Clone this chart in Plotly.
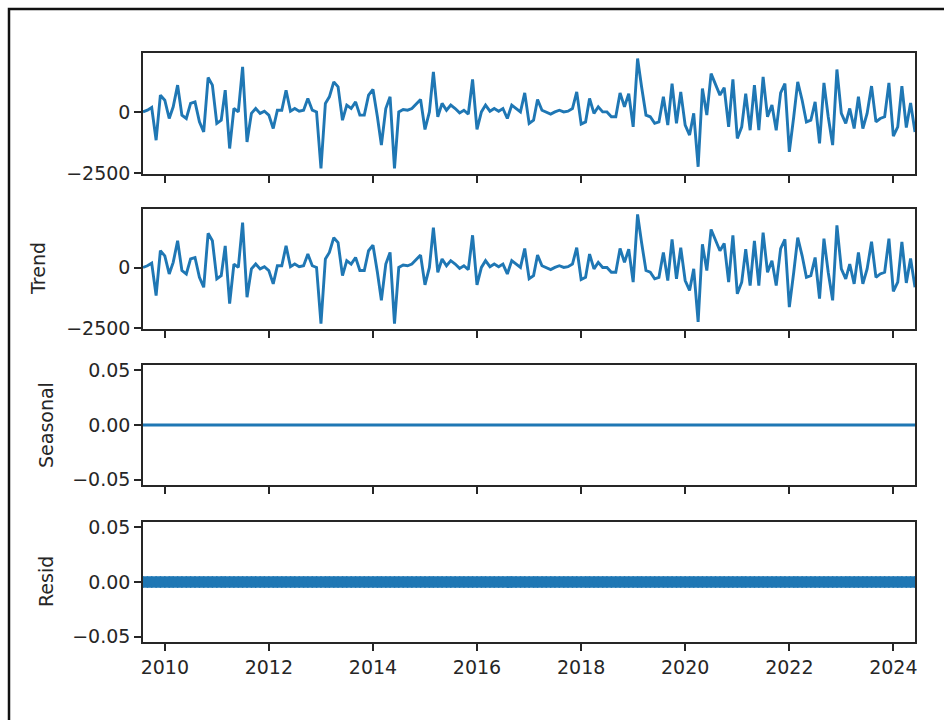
import pandas as pd
import plotly.graph_objects as go

# Monthly series, Aug 2009 - Jun 2024
observed = [
    10, 80, 190, -1150, 700, 490, -260, 220, 1110, -120,
    -260, 360, 420, -400, -810, 1420, 1110, -460, -330, 900,
    -1490, 150, 10, 1860, -1220, -50, 150, -50, 40, -120,
    -670, 80, 80, 900, 40, 150, 40, 80, 560, 80,
    10, -2310, 360, 630, 1240, 1040, -330, 290, 150, 420,
    -120, -120, 700, 930, -190, -1350, 150, 630, -2310, 10,
    110, 80, 150, 360, 520, -710, 10, 1650, -190, 360,
    80, 290, 150, -30, 80, -80, 1340, -710, 10, 290,
    40, 150, 40, 150, -260, 290, 150, 10, 790,
    -460, -330, 520, 80, 10, -80, 10, 80, 10, 40,
    150, 830, -490, -400, 560, -50, 220, 10, 10, -190,
    -190, 790, 220, 760, -600, 2200, 1040, -120, -190, -460,
    -400, 630, -530, 1170, -460, 830, -530, -940, -50, -2240,
    970, -120, 1580, 1110, 700, 1000, -600, 1340, -1080, -600,
    760, -740, 1110, -740, 1450, -190, 290, -740, 790, 1170,
    -1630, -190, 1240, 490, -400, -330, 420, -1280, 1200, -190,
    -1350, 1750, -50, -460, 150, -670, 630, -670, -50, 1070,
    -400, -260, -190, 1200, -980, -600, 1070, -630, 380, -810,
]
# A one-period moving average leaves the series unchanged
trend = list(observed)
seasonal = [0.0] * len(observed)
resid = [0.0] * len(observed)

dates = pd.date_range(start="2009-08-01", periods=len(observed), freq="MS")

year_ticks = ["2010-01-01", "2012-01-01", "2014-01-01", "2016-01-01",
              "2018-01-01", "2020-01-01", "2022-01-01", "2024-01-01"]
year_labels = ["2010", "2012", "2014", "2016", "2018", "2020", "2022", "2024"]

big_ticks = [-2500, 0]
big_labels = ["\u22122500", "0"]
small_ticks = [-0.05, 0.0, 0.05]
small_labels = ["\u22120.05", "0.00", "0.05"]

W, H = 944, 720
BLUE = "#1f77b4"
INK = "#262626"
FONT = "DejaVu Sans"


def px_x(x):
    return x / W


def px_y(y):
    return 1 - y / H


def padded(vals, frac=0.05):
    lo, hi = min(vals), max(vals)
    span = hi - lo
    return [lo - frac * span, hi + frac * span]


# panel boxes in pixels: (top, bottom)
panels = [(53, 174), (209, 329), (365, 485), (522, 642)]
x_dom = [px_x(143), px_x(915)]

fig = go.Figure()

line_style = dict(color=BLUE, width=2.9)
fig.add_trace(go.Scatter(x=dates, y=observed, mode="lines", line=line_style,
                         xaxis="x", yaxis="y", showlegend=False))
fig.add_trace(go.Scatter(x=dates, y=trend, mode="lines", line=line_style,
                         xaxis="x2", yaxis="y2", showlegend=False))
fig.add_trace(go.Scatter(x=dates, y=seasonal, mode="lines", line=line_style,
                         xaxis="x3", yaxis="y3", showlegend=False))
fig.add_trace(go.Scatter(x=dates, y=resid, mode="markers",
                         marker=dict(color=BLUE, size=12, line=dict(width=0)),
                         xaxis="x4", yaxis="y4", showlegend=False))

axis_common = dict(
    showline=True, mirror=True, linecolor=INK, linewidth=1.5,
    ticks="outside", ticklen=7, tickwidth=1.5, tickcolor=INK,
    showgrid=False, zeroline=False, automargin=False,
    tickfont=dict(family=FONT, size=19, color=INK),
)

layout = dict(
    width=W, height=H,
    margin=dict(l=0, r=0, t=0, b=0, pad=0, autoexpand=False),
    paper_bgcolor="white", plot_bgcolor="white",
    showlegend=False,
)

y_ranges = [padded(observed), padded(trend), [-0.055, 0.055], [-0.055, 0.055]]
y_tickvals = [big_ticks, big_ticks, small_ticks, small_ticks]
y_ticktext = [big_labels, big_labels, small_labels, small_labels]

for i, (top, bottom) in enumerate(panels):
    n = "" if i == 0 else str(i + 1)
    layout["xaxis" + n] = dict(
        axis_common, domain=x_dom, anchor="y" + n,
        range=[dates[0], dates[-1]],
        tickvals=year_ticks, ticktext=year_labels,
        showticklabels=(i == len(panels) - 1),
    )
    layout["yaxis" + n] = dict(
        axis_common, domain=[px_y(bottom), px_y(top)], anchor="x" + n,
        range=y_ranges[i], tickvals=y_tickvals[i], ticktext=y_ticktext[i],
    )

fig.update_layout(**layout)

# axis labels
for label, xc, (top, bottom) in [("Trend", 38, panels[1]),
                                 ("Seasonal", 46, panels[2]),
                                 ("Resid", 46, panels[3])]:
    fig.add_annotation(
        text=label, xref="paper", yref="paper",
        x=px_x(xc), y=px_y((top + bottom) / 2),
        xanchor="center", yanchor="middle", textangle=-90, showarrow=False,
        font=dict(family=FONT, size=19, color=INK),
    )

# outer frame
fig.add_shape(type="rect", xref="paper", yref="paper",
              x0=px_x(9), x1=1.05, y0=-0.05, y1=px_y(9),
              line=dict(color="#111111", width=2.5), fillcolor="rgba(0,0,0,0)",
              layer="above")

fig.write_html("out.html")
